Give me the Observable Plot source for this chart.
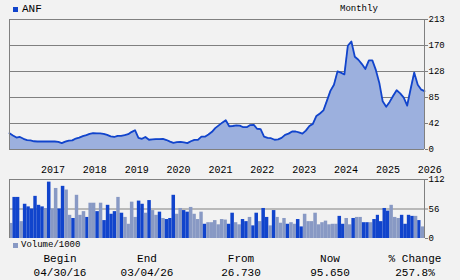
<!DOCTYPE html>
<html><head><meta charset="utf-8">
<script src="https://cdn.jsdelivr.net/npm/d3@7"></script>
<script src="https://cdn.jsdelivr.net/npm/@observablehq/plot@0.6"></script>
<style>
body{margin:0;background:#f2f2f2;}
#c{position:relative;width:460px;height:280px;background:#f2f2f2;font-family:"Liberation Mono","DejaVu Sans Mono",monospace;color:#000;overflow:hidden}
#c svg{position:absolute;left:0;background:transparent}
.t{position:absolute;white-space:nowrap;line-height:1}
</style></head><body><div id="c"></div>
<script>
const ticker = "ANF";
const period = "Monthly";
const startMonth = "2016-04";
const price = [
  26.7, 23, 19.5, 20.5, 17.5, 15.5, 14.8, 13.5, 13.1, 13.1,
  13.1, 13.1, 13.1, 13.1, 12.5, 10.4, 13, 14.7, 15, 18,
  19.5, 21.8, 23.5, 25.5, 26.7, 26.5, 26.3, 25.7, 24, 21.5,
  20.5, 22.3, 22.3, 23.5, 25, 28.5, 31.6, 19, 17.5, 20.5,
  16, 16.5, 17, 17, 17.5, 15.5, 13, 11, 12, 12.5,
  11.5, 10.5, 13.5, 15.8, 15.8, 21, 21, 24.5, 29, 35,
  39.5, 44, 48, 38, 38.5, 39.5, 39, 36.5, 36.5, 40,
  40.4, 34, 33.5, 21, 19, 18.5, 16, 16.5, 19, 24,
  26, 29.5, 29.5, 28, 26, 31, 38.5, 42, 55, 59,
  64, 80, 96, 106, 128, 126, 123, 170, 177, 152,
  147, 140, 132, 146, 146, 130, 108, 79, 70, 78,
  88, 97, 92, 85, 72, 100, 126, 106, 98, 95.65
];
const volume = [
  28.6, 78, 78, 32, 65, 60, 56, 80, 63, 60,
  57, 107, 56, 95, 56, 99, 92, 44, 38, 82,
  44, 51, 40, 67, 67, 51, 67, 34, 63, 46,
  51, 78, 48, 40, 27, 69, 40, 71, 65, 48,
  72, 53, 44, 50, 38, 36, 38, 82, 46, 57,
  53, 50, 59, 46, 36, 50, 27, 30, 30, 34,
  26, 36, 35, 27, 48, 30, 26, 36, 32, 40,
  24, 48, 32, 57, 40, 24, 53, 40, 29, 38,
  27, 30, 27, 36, 22, 46, 32, 32, 48, 26,
  30, 33, 26, 27, 27, 42, 27, 38, 26, 38,
  40, 40, 30, 30, 30, 36, 44, 32, 57, 52,
  63, 40, 38, 44, 27, 44, 42, 42, 34, 22
];
const upMonth = [
  0,1,1,0,1,1,1,1,1,1,
  0,1,0,0,1,1,0,0,1,0,
  0,0,1,0,0,1,0,1,1,1,
  1,0,1,0,0,0,0,1,1,0,
  1,0,0,1,0,1,1,1,0,0,
  1,1,0,0,0,0,1,0,0,0,
  0,0,0,1,1,0,0,1,1,0,
  1,1,0,1,1,0,1,0,0,0,
  1,0,0,1,1,0,0,0,0,0,
  0,0,0,0,0,1,1,0,0,1,
  0,0,1,1,0,1,1,1,1,1,
  0,0,0,1,1,1,1,0,1,0
];
const yearLabels = ["2017","2018","2019","2020","2021","2022","2023","2024","2025","2026"];
const priceTicks = [0, 42.6, 85.2, 127.8, 170.4, 213];
const priceTickLabels = ["0","42","85","128","170","213"];
const volTicks = [0, 56, 112];
const volTickLabels = ["0","56","112"];
const statHeads = ["Begin","End","From","Now","% Change"];
const statValues = ["04/30/16","03/04/26","26.730","95.650","257.8%"];

const DARK = "#1144cc", LIGHT = "#8899c4", AREA = "#9cb0de", GRID = "#808080";
const FONT = "Liberation Mono, DejaVu Sans Mono, monospace";
const start = d3.utcParse("%Y-%m")(startMonth);
const data = price.map((p, i) => ({date: d3.utcMonth.offset(start, i), price: p, vol: volume[i], up: upMonth[i]}));
const end = data[data.length - 1].date;
const years = yearLabels.map(y => d3.utcParse("%Y")(y));
const pLab = new Map(priceTicks.map((t, i) => [t, priceTickLabels[i]]));
const vLab = new Map(volTicks.map((t, i) => [t, volTickLabels[i]]));
const style = {background: "transparent", fontFamily: FONT, fontSize: "9px", color: "#000"};

const c = document.getElementById("c");

const priceChart = Plot.plot({
  width: 460, height: 176, marginLeft: 9, marginRight: 36, marginTop: 19, marginBottom: 27,
  style,
  x: {type: "utc", domain: [start, end], axis: null},
  y: {domain: [0, 213], axis: null},
  marks: [
    Plot.gridY(priceTicks, {stroke: GRID, strokeOpacity: 1}),
    Plot.areaY(data, {x: "date", y: "price", fill: AREA}),
    Plot.lineY(data, {x: "date", y: "price", stroke: DARK, strokeWidth: 1.8}),
    Plot.ruleY([0], {stroke: GRID}),
    Plot.ruleX([start, end], {stroke: GRID}),
    Plot.axisY(priceTicks, {anchor: "right", label: null, tickSize: 3, tickPadding: 1, stroke: GRID, tickFormat: d => pLab.get(d), fontSize: 9}),
    Plot.axisX(years, {anchor: "bottom", label: null, tickSize: 0, tickPadding: 16, textAnchor: "start", tickFormat: "%Y", fontSize: 10})
  ]
});
priceChart.style.top = "0px";
c.appendChild(priceChart);

const volChart = Plot.plot({
  width: 460, height: 70, marginLeft: 9, marginRight: 36, marginTop: 3, marginBottom: 8,
  style,
  x: {type: "utc", domain: [start, d3.utcMonth.offset(end, 1)], axis: null},
  y: {domain: [0, 112], axis: null},
  color: {type: "identity"},
  marks: [
    Plot.gridY([56, 112], {stroke: GRID, strokeOpacity: 1}),
    Plot.rectY(data, {x1: "date", x2: d => d3.utcMonth.offset(d.date, 1), y: "vol", fill: d => d.up ? DARK : LIGHT}),
    Plot.ruleX([start, d3.utcMonth.offset(end, 1)], {y1: 0, y2: 112, stroke: GRID}),
    Plot.axisY(volTicks, {anchor: "right", label: null, tickSize: 3, tickPadding: 1, stroke: GRID, tickFormat: d => vLab.get(d), fontSize: 9})
  ]
});
volChart.style.top = "176px";
c.appendChild(volChart);

function box(left, top, w, h, color) {
  const d = document.createElement("div");
  Object.assign(d.style, {position: "absolute", left: left + "px", top: top + "px", width: w + "px", height: h + "px", background: color});
  c.appendChild(d);
}
function text(str, left, top, size, align, width) {
  const d = document.createElement("div");
  d.className = "t";
  d.textContent = str;
  Object.assign(d.style, {left: left + "px", top: top + "px", fontSize: size + "px"});
  if (align) { d.style.width = width + "px"; d.style.textAlign = align; }
  c.appendChild(d);
}
box(13, 7, 5, 5, DARK);
text(ticker, 22, 4, 11);
text(period, 340, 5, 9);
box(13, 243, 5, 5, LIGHT);
text("Volume/1000", 21, 241, 9);
const centers = [60, 147, 241, 330, 415];
statHeads.forEach((h, i) => text(h, centers[i] - 40, 254, 11, "center", 80));
statValues.forEach((v, i) => text(v, centers[i] - 40, 268, 11, "center", 80));
</script></body></html>
